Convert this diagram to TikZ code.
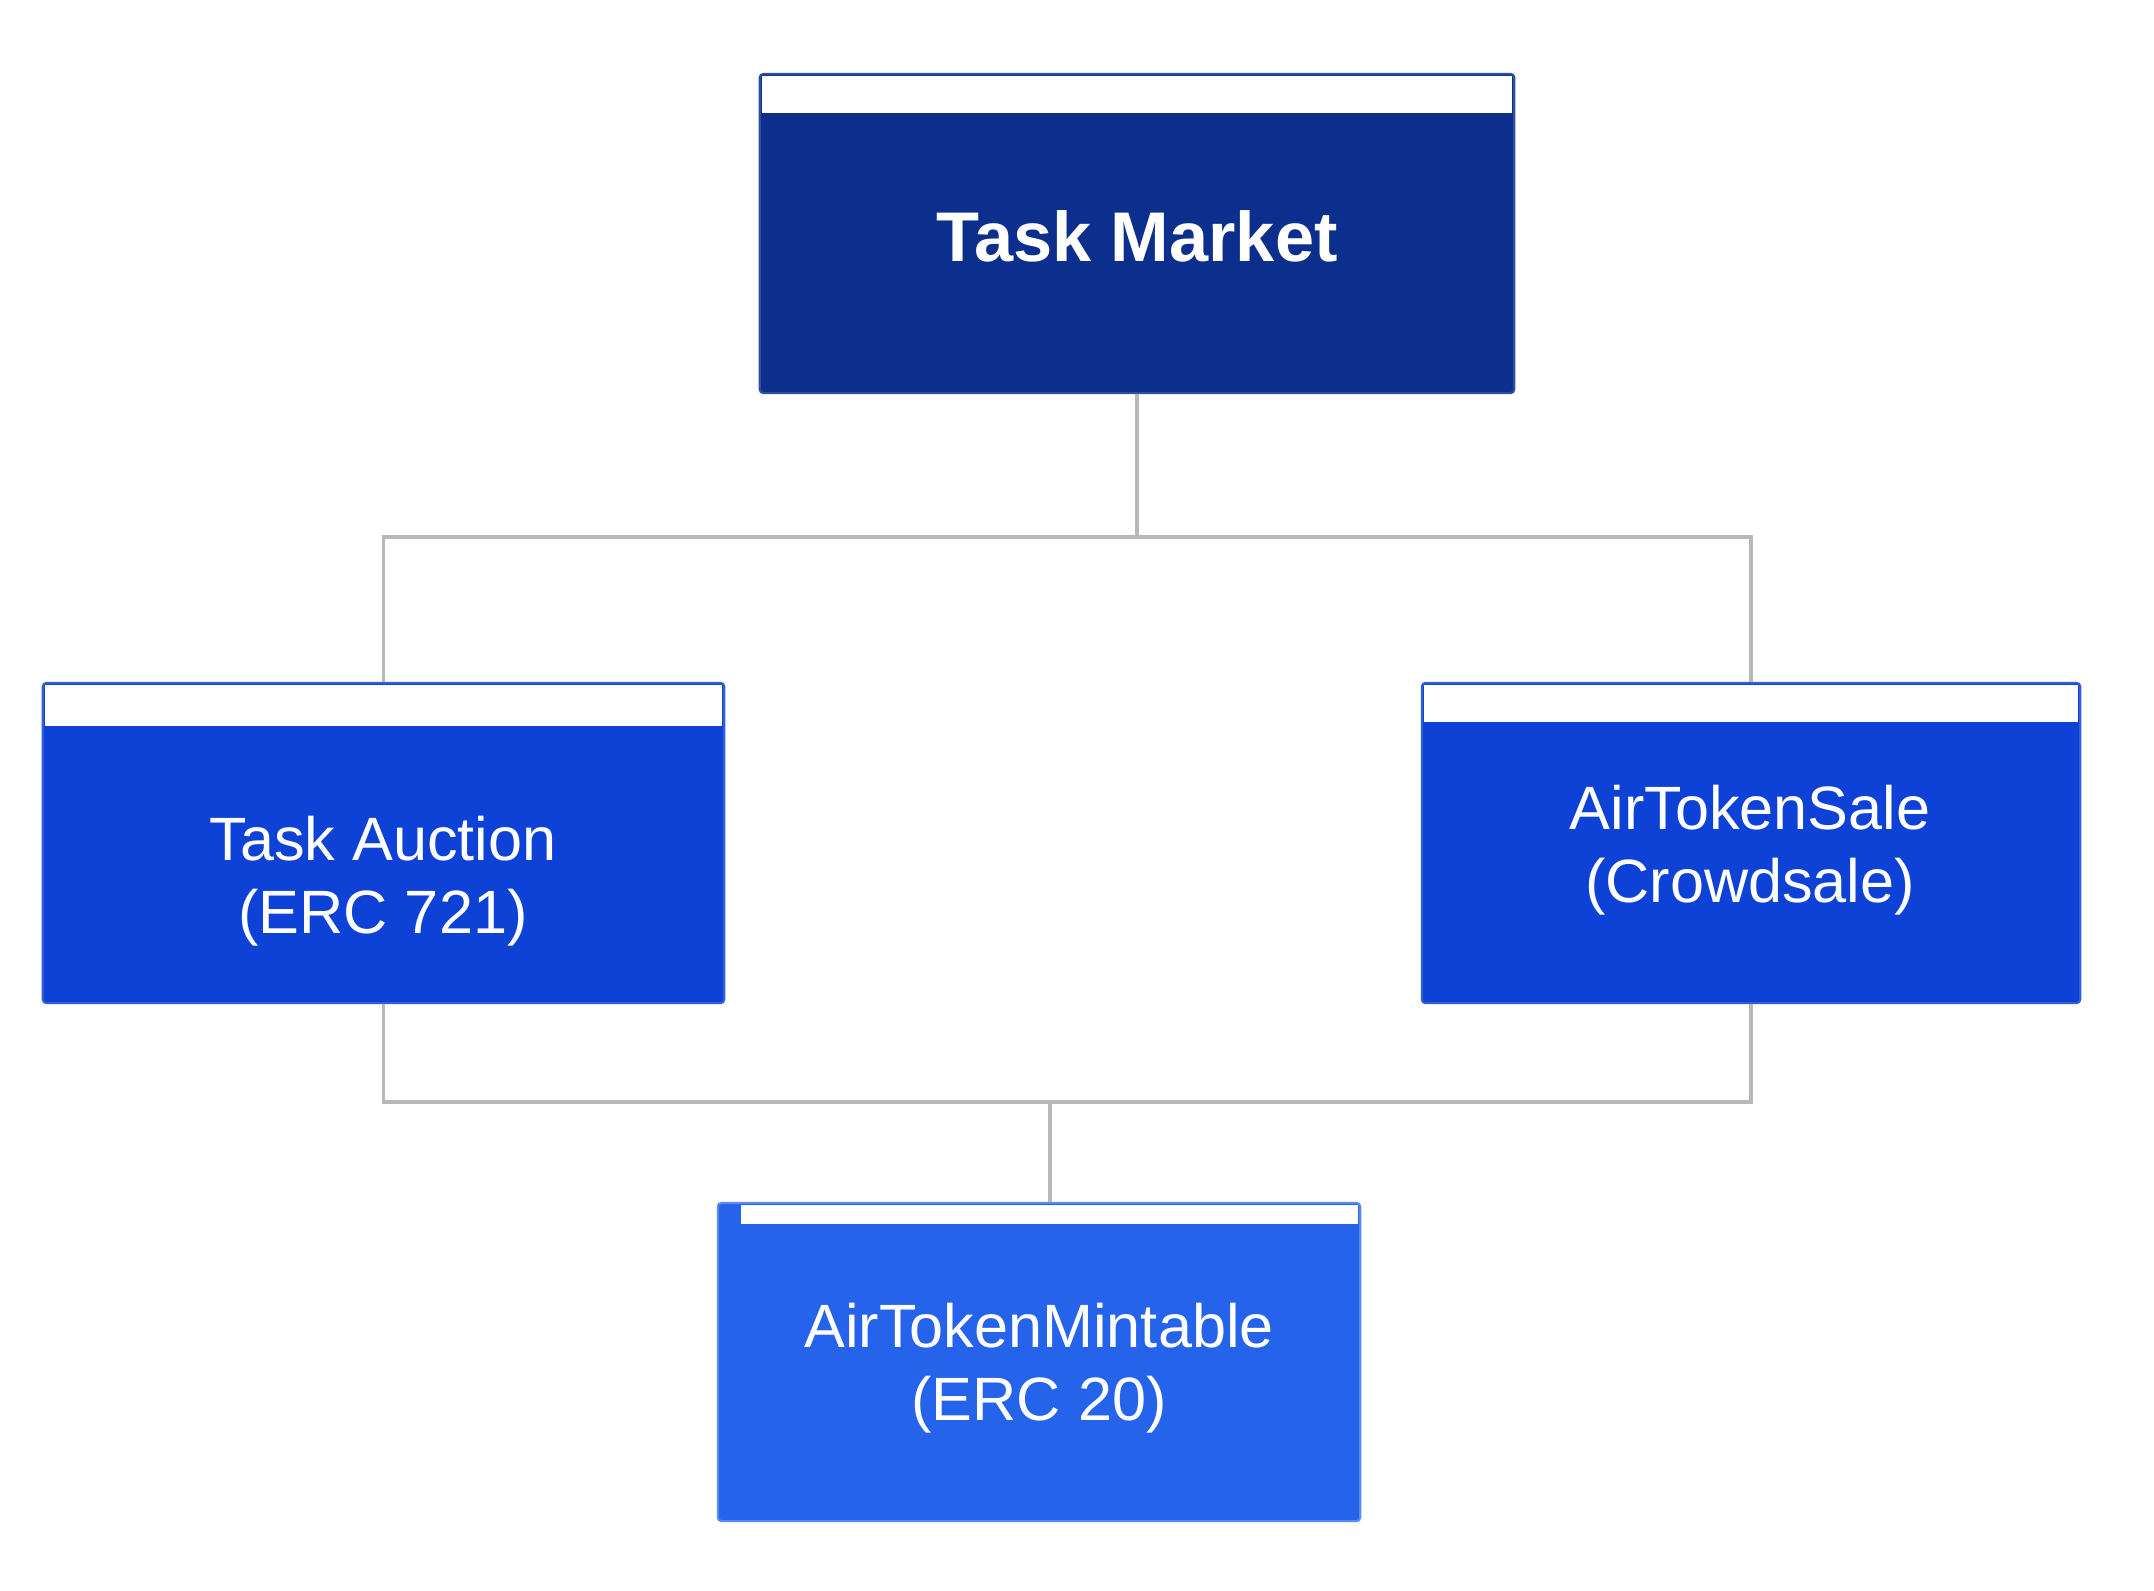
\documentclass[tikz,border=0pt]{standalone}
\usepackage{fontspec}
\setmainfont{Liberation Sans}
\definecolor{navy}{HTML}{0C2F8E}
\definecolor{royal}{HTML}{0E42D6}
\definecolor{sky}{HTML}{2563EB}
\definecolor{wire}{HTML}{B8B8B8}
\tikzset{
  box/.style={draw, line width=0.6pt, rounded corners=1pt, inner sep=0pt},
  txt/.style={text=white, align=center, font=\fontsize{17.4}{20.8}\selectfont},
  conn/.style={draw=wire, line width=1pt},
}
\begin{document}
\begin{tikzpicture}[x=0.01cm, y=-0.01cm]
                \useasboundingbox (0,0) rectangle (2154,1590);
                % boxes
                \node[box, draw=navy!85!white, fill=navy, minimum width=7.54cm, minimum height=3.19cm] (market) at (1137,233.5) {};
                \node[box, draw=royal!85!white, fill=royal, minimum width=6.81cm, minimum height=3.2cm] (auction) at (383.5,843) {};
                \node[box, draw=royal!85!white, fill=royal, minimum width=6.58cm, minimum height=3.2cm] (sale) at (1751,843) {};
                \node[box, draw=sky!75!white, fill=sky, minimum width=6.42cm, minimum height=3.18cm] (mint) at (1039,1362) {};
                % white strips on top
                \foreach \b/\h in {market/37, auction/41, sale/37}
                    \fill[white] ([shift={(3,3)}]\b.north west) rectangle ([shift={(-3,3+\h)}]\b.north east);
                \fill[white] ([shift={(24,3)}]mint.north west) rectangle ([shift={(-3,22)}]mint.north east);
                % labels
                \node[txt, font=\fontsize{20}{24}\selectfont\bfseries] (marketlbl) at (1137,236) {Task Market};
                \node[txt] (auctionlbl) at (383,881) {Task Auction\\(ERC 721)};
                \node[txt] (salelbl) at (1750,850) {AirTokenSale\\(Crowdsale)};
                \node[txt] (mintlbl) at (1039,1368) {AirTokenMintable\\(ERC 20)};
                % connectors
                \coordinate (upbus) at (1137,537);
                \coordinate (lowbus) at (1050,1102);
                \draw[conn] (market.south) -- (upbus);
                \draw[conn] (auction.north) |- (upbus) -| (sale.north);
                \draw[conn] (auction.south) |- (lowbus) -| (sale.south);
                \draw[conn] (lowbus) -- (lowbus |- mint.north);
            \end{tikzpicture}
\end{document}
